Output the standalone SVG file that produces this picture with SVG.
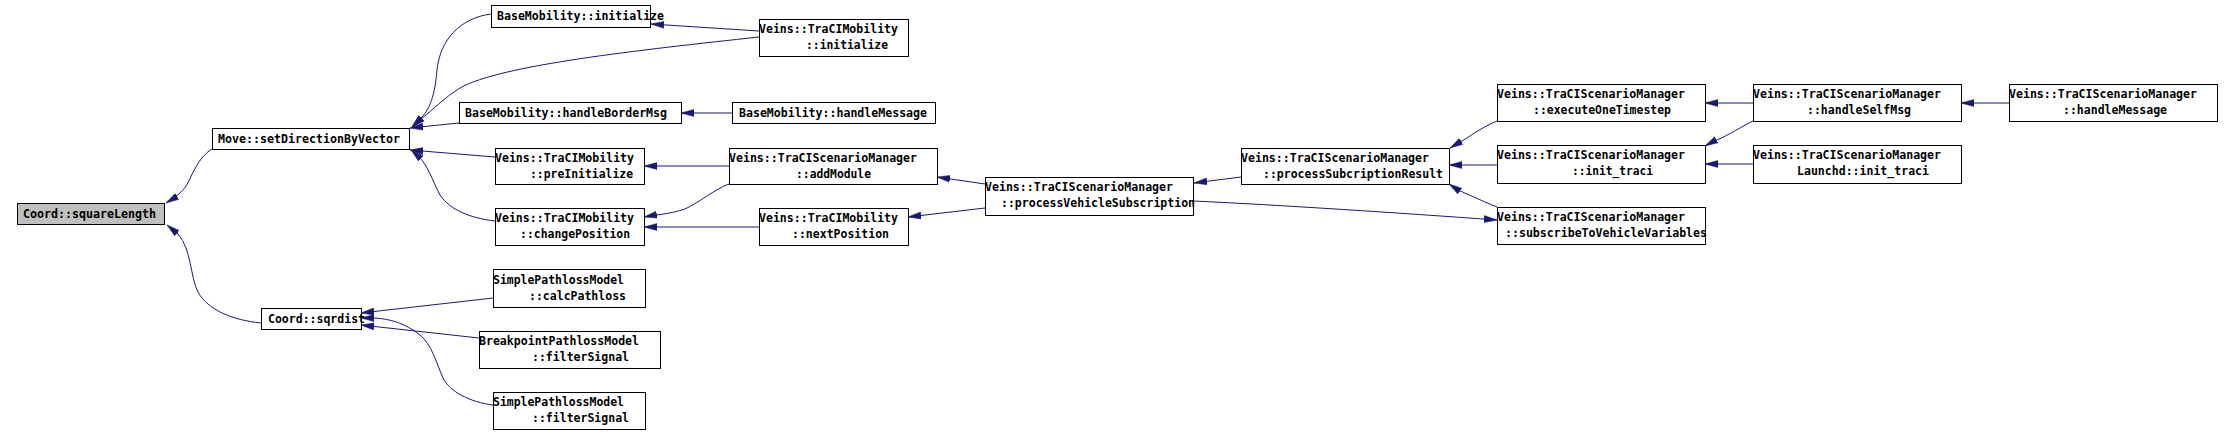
<svg xmlns="http://www.w3.org/2000/svg" width="2233" height="436" viewBox="0 0 2233 436">
<style>
.n rect{fill:#ffffff;stroke:#000000;stroke-width:1}
.n.root rect{fill:#bfbfbf}
.n text{font-family:"DejaVu Sans Mono","Liberation Mono",monospace;font-size:12px;font-weight:bold;fill:#000000}
#edges path{fill:none;stroke:#191970;stroke-width:1;marker-end:url(#ah)}
</style>
<defs>
<marker id="ah" viewBox="0 -4 13 8" refX="13" refY="0" markerWidth="13" markerHeight="8" orient="auto" markerUnits="userSpaceOnUse">
<path d="M0,-3.5 L13,0 L0,3.5 z" fill="#191970" stroke="#191970" stroke-width="0.5"/>
</marker>
</defs>
<rect width="2233" height="436" fill="#ffffff"/>

<g id="n_squareLength" class="n root"><rect x="17.5" y="203.5" width="147" height="21"/><text x="23" y="218" textLength="133" lengthAdjust="spacingAndGlyphs">Coord::squareLength</text></g>
<g id="n_setDirectionByVector" class="n"><rect x="212.5" y="128.5" width="197" height="21"/><text x="218" y="143" textLength="182" lengthAdjust="spacingAndGlyphs">Move::setDirectionByVector</text></g>
<g id="n_sqrdist" class="n"><rect x="261.5" y="308.5" width="100" height="21"/><text x="268" y="323" textLength="97" lengthAdjust="spacingAndGlyphs">Coord::sqrdist</text></g>
<g id="n_bm_initialize" class="n"><rect x="491.5" y="5.5" width="159" height="22"/><text x="497" y="20" textLength="167" lengthAdjust="spacingAndGlyphs">BaseMobility::initialize</text></g>
<g id="n_tm_initialize" class="n"><rect x="759.5" y="19.5" width="149" height="37"/><text x="759" y="33" textLength="139" lengthAdjust="spacingAndGlyphs">Veins::TraCIMobility</text><text x="806" y="49" textLength="82" lengthAdjust="spacingAndGlyphs">::initialize</text></g>
<g id="n_handleBorderMsg" class="n"><rect x="459.5" y="102.5" width="222" height="21"/><text x="465" y="117" textLength="202" lengthAdjust="spacingAndGlyphs">BaseMobility::handleBorderMsg</text></g>
<g id="n_bm_handleMessage" class="n"><rect x="732.5" y="102.5" width="203" height="21"/><text x="739" y="117" textLength="188" lengthAdjust="spacingAndGlyphs">BaseMobility::handleMessage</text></g>
<g id="n_preInitialize" class="n"><rect x="495.5" y="148.5" width="149" height="36"/><text x="495" y="162" textLength="139" lengthAdjust="spacingAndGlyphs">Veins::TraCIMobility</text><text x="530" y="178" textLength="103" lengthAdjust="spacingAndGlyphs">::preInitialize</text></g>
<g id="n_addModule" class="n"><rect x="729.5" y="148.5" width="208" height="36"/><text x="729" y="162" textLength="188" lengthAdjust="spacingAndGlyphs">Veins::TraCIScenarioManager</text><text x="796" y="178" textLength="75" lengthAdjust="spacingAndGlyphs">::addModule</text></g>
<g id="n_changePosition" class="n"><rect x="495.5" y="208.5" width="149" height="37"/><text x="495" y="222" textLength="139" lengthAdjust="spacingAndGlyphs">Veins::TraCIMobility</text><text x="520" y="238" textLength="110" lengthAdjust="spacingAndGlyphs">::changePosition</text></g>
<g id="n_nextPosition" class="n"><rect x="759.5" y="208.5" width="149" height="37"/><text x="759" y="222" textLength="139" lengthAdjust="spacingAndGlyphs">Veins::TraCIMobility</text><text x="792" y="238" textLength="97" lengthAdjust="spacingAndGlyphs">::nextPosition</text></g>
<g id="n_calcPathloss" class="n"><rect x="493.5" y="269.5" width="152" height="38"/><text x="493" y="284" textLength="131" lengthAdjust="spacingAndGlyphs">SimplePathlossModel</text><text x="529" y="300" textLength="97" lengthAdjust="spacingAndGlyphs">::calcPathloss</text></g>
<g id="n_bp_filterSignal" class="n"><rect x="479.5" y="331.5" width="181" height="37"/><text x="479" y="345" textLength="160" lengthAdjust="spacingAndGlyphs">BreakpointPathlossModel</text><text x="532" y="361" textLength="97" lengthAdjust="spacingAndGlyphs">::filterSignal</text></g>
<g id="n_sp_filterSignal" class="n"><rect x="493.5" y="392.5" width="152" height="37"/><text x="493" y="406" textLength="131" lengthAdjust="spacingAndGlyphs">SimplePathlossModel</text><text x="532" y="422" textLength="97" lengthAdjust="spacingAndGlyphs">::filterSignal</text></g>
<g id="n_processVehicleSubscription" class="n"><rect x="985.5" y="177.5" width="208" height="38"/><text x="985" y="191" textLength="188" lengthAdjust="spacingAndGlyphs">Veins::TraCIScenarioManager</text><text x="1001" y="207" textLength="194" lengthAdjust="spacingAndGlyphs">::processVehicleSubscription</text></g>
<g id="n_processSubcriptionResult" class="n"><rect x="1241.5" y="148.5" width="208" height="36"/><text x="1241" y="162" textLength="188" lengthAdjust="spacingAndGlyphs">Veins::TraCIScenarioManager</text><text x="1263" y="178" textLength="180" lengthAdjust="spacingAndGlyphs">::processSubcriptionResult</text></g>
<g id="n_executeOneTimestep" class="n"><rect x="1497.5" y="84.5" width="208" height="37"/><text x="1497" y="98" textLength="188" lengthAdjust="spacingAndGlyphs">Veins::TraCIScenarioManager</text><text x="1533" y="114" textLength="138" lengthAdjust="spacingAndGlyphs">::executeOneTimestep</text></g>
<g id="n_init_traci" class="n"><rect x="1497.5" y="145.5" width="208" height="38"/><text x="1497" y="159" textLength="188" lengthAdjust="spacingAndGlyphs">Veins::TraCIScenarioManager</text><text x="1572" y="175" textLength="81" lengthAdjust="spacingAndGlyphs">::init_traci</text></g>
<g id="n_subscribeToVehicleVariables" class="n"><rect x="1497.5" y="207.5" width="208" height="37"/><text x="1497" y="221" textLength="188" lengthAdjust="spacingAndGlyphs">Veins::TraCIScenarioManager</text><text x="1505" y="237" textLength="202" lengthAdjust="spacingAndGlyphs">::subscribeToVehicleVariables</text></g>
<g id="n_handleSelfMsg" class="n"><rect x="1753.5" y="84.5" width="208" height="37"/><text x="1753" y="98" textLength="188" lengthAdjust="spacingAndGlyphs">Veins::TraCIScenarioManager</text><text x="1807" y="114" textLength="104" lengthAdjust="spacingAndGlyphs">::handleSelfMsg</text></g>
<g id="n_launchd_init_traci" class="n"><rect x="1753.5" y="145.5" width="208" height="38"/><text x="1753" y="159" textLength="188" lengthAdjust="spacingAndGlyphs">Veins::TraCIScenarioManager</text><text x="1797" y="175" textLength="132" lengthAdjust="spacingAndGlyphs">Launchd::init_traci</text></g>
<g id="n_tsm_handleMessage" class="n"><rect x="2009.5" y="84.5" width="208" height="37"/><text x="2009" y="98" textLength="188" lengthAdjust="spacingAndGlyphs">Veins::TraCIScenarioManager</text><text x="2063" y="114" textLength="104" lengthAdjust="spacingAndGlyphs">::handleMessage</text></g>

<g id="edges">
<path d="M212,149 C198,157 192,176 186,186 C182,192 176,197 166,203"/>
<path d="M261,323 C232,320 208,310 198,292 C190,277 192,250 178,234 L167,225"/>
<path d="M491,14 C460,18 440,40 437,70 C435,95 430,110 419,120 L412,127"/>
<path d="M759,37 C640,50 500,65 460,88 C445,97 435,108 420,120 L412,127"/>
<path d="M759,31 L651,24"/>
<path d="M459,123 L410,128"/>
<path d="M732,113 L681,113"/>
<path d="M495,157 L410,150"/>
<path d="M495,221 C470,218 450,210 440,195 C432,180 428,165 418,156 L411,150"/>
<path d="M729,166 L644,166"/>
<path d="M729,184 C715,189 700,202 685,209 C670,214 655,215 644,217"/>
<path d="M759,227 L644,227"/>
<path d="M985,184 L937,177"/>
<path d="M985,208 L908,217"/>
<path d="M1241,177 L1194,183"/>
<path d="M1193,201 C1280,205 1400,213 1497,220"/>
<path d="M1497,121 C1480,128 1468,138 1460,142 L1450,148"/>
<path d="M1497,165 L1449,165"/>
<path d="M1497,207 C1480,200 1465,193 1458,190 L1449,184"/>
<path d="M1753,103 L1705,103"/>
<path d="M1753,121 C1737,129 1722,139 1714,141 L1705,146"/>
<path d="M1753,164 L1705,164"/>
<path d="M2009,103 L1961,103"/>
<path d="M493,298 L361,313"/>
<path d="M479,338 L361,325"/>
<path d="M493,405 C470,402 450,392 443,378 C436,362 432,345 420,335 C405,323 390,319 375,318 L361,318"/>
</g>
</svg>
